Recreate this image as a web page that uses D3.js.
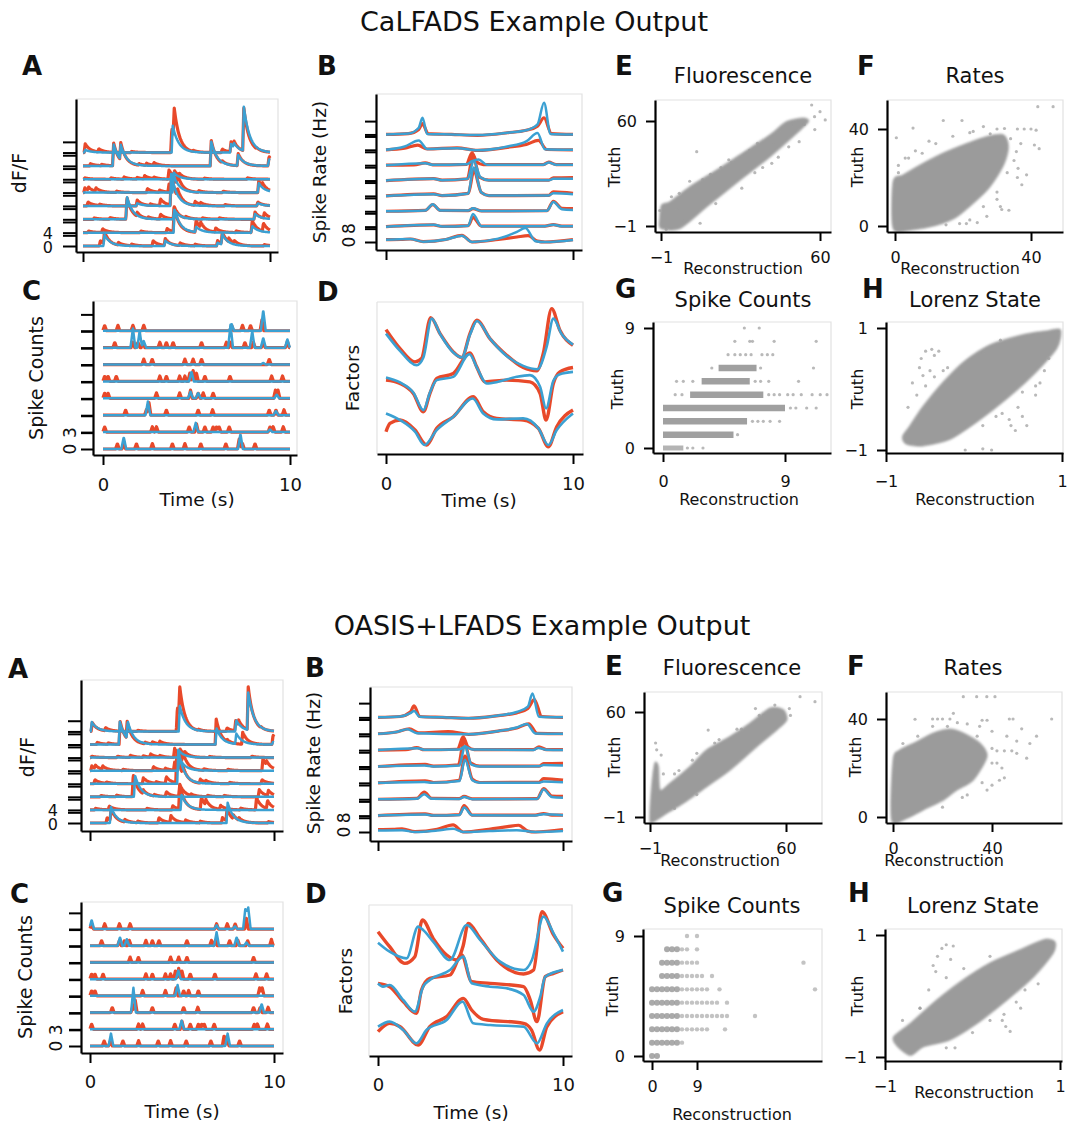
<!DOCTYPE html>
<html><head><meta charset="utf-8">
<script src="https://cdn.jsdelivr.net/npm/d3@7"></script>
<style>
body{margin:0;background:#fff}
svg{display:block}
text{font-family:"DejaVu Sans",sans-serif;fill:#111}
</style>
</head><body><script>
// ---------------- DATA ----------------
const timeTicks = [0, 10];
const traceTickLabels = {ca: ['0', '4'], rate: ['0', '8'], spk: ['0', '3']};

// Calcium (dF/F) traces: events [time s, amplitude]; trace 0 = bottom
const caTruth = [
  [[0.93,2],[1.15,4.5],[1.9,1],[2.6,0.6],[3.75,2],[4.4,2.6],[5.2,1],[6.0,0.6],[7.2,2],[7.45,4.5],[7.8,1.5],[8.1,1],[9.7,0.5]],
  [[0.3,0.6],[1.05,1.4],[3.1,0.6],[4.5,1.5],[4.88,9],[6.05,4.5],[6.3,2],[7.1,1.5],[8.2,0.6],[9.05,4.5],[9.65,3]],
  [[0.6,0.5],[1.45,0.6],[2.35,8.2],[2.9,1.5],[3.5,0.6],[4.15,1.8],[4.88,4.5],[5.5,0.6],[6.4,0.5],[7.3,0.5],[9.2,2.7],[9.7,2]],
  [[0.27,1.5],[0.9,0.5],[2.9,2.2],[3.6,0.6],[4.15,2.5],[4.72,11.5],[5.05,3],[6.0,1.5],[6.3,0.7],[7.6,0.5],[9.35,1.5]],
  [[0.1,1.8],[0.3,1.2],[0.7,1.3],[1.8,0.5],[3.45,1.5],[4.1,0.8],[4.6,3],[4.85,5],[5.05,4],[6.2,0.6],[7.5,0.5],[9.4,4.5],[9.6,1.5]],
  [[0.1,0.5],[1.5,0.5],[2.2,0.8],[2.9,0.6],[3.3,1.2],[3.8,0.6],[4.6,3.4],[4.9,2],[5.15,1],[6.5,0.4],[8.8,0.5]],
  [[0.4,0.8],[1.0,0.5],[1.64,8.5],[2.02,6.5],[3.0,0.6],[3.4,0.8],[3.8,1.0],[6.86,9.5],[7.45,0.8],[8.3,4.5],[9.95,3.5]],
  [[0.12,3.3],[0.85,1.2],[2.6,0.4],[4.75,9],[4.88,11],[5.9,0.4],[7.45,1.3],[7.92,3.8],[8.08,2],[8.6,16],[9.3,0.4]]
];
const caReconCaLFADS = [
  [[1.15,4.2],[4.4,2],[7.2,1.2],[7.45,4]],
  [[4.9,8.5],[6.05,2],[9.05,2.5]],
  [[2.35,8.5],[4.88,3.5],[9.2,2]],
  [[2.9,1],[4.72,12],[9.35,1]],
  [[4.85,6.5],[9.4,3.5]],
  [[4.85,2.5]],
  [[1.64,8],[2.02,5.5],[6.86,9],[8.3,4],[9.95,2.5]],
  [[0.12,1],[4.8,10],[7.92,3.2],[8.08,1.6],[8.6,16.5]]
];
const caReconOASIS = [
  [[1.14,6],[7.48,7.6]],
  [[4.98,5.6]],
  [[2.45,8]],
  [[4.8,12.7]],
  [[4.85,5]],
  [[4.85,2.5]],
  [[1.62,8.5],[2.05,6.5],[6.88,6],[7.95,4],[9.95,1]],
  [[0.1,3.5],[4.88,9.5],[7.95,4.2],[8.6,14]]
];

// Spike rate traces (Hz): knots [time s, rate]
const rateTruth = [
  [[0,1.4],[0.8,1.5],[1.3,1.8],[2.0,0.2],[3.2,1.5],[4.06,4],[4.6,0],[6,1.5],[7.0,3],[7.6,3.8],[8.1,0.5],[8.5,0],[10,1.4]],
  [[0,0],[2.55,1],[3,0.1],[4.4,0.6],[4.65,5.6],[5.1,0.3],[8.5,0.3],[8.95,1.2],[9.4,0.3],[10,0.3]],
  [[0,0],[2.1,0.5],[2.5,4],[2.9,0.5],[4.4,0.4],[4.65,1.6],[5.1,0.2],[8.6,0.3],[8.95,6],[9.4,1.8],[10,1.6]],
  [[0,0],[2.55,1.2],[3,0.2],[4.4,1.5],[4.7,15],[5.1,2],[5.5,0.2],[8.7,0.3],[8.95,2.4],[10,1.5]],
  [[0,0],[2.55,1.2],[3,0.2],[4.35,1],[4.65,15],[5.0,2],[5.5,0.2],[8.7,0.2],[8.95,1.6],[10,1.8]],
  [[0,0],[1.5,0.2],[2.1,1.4],[2.5,0.2],[4.3,0.5],[4.6,7.4],[4.85,2],[5.2,0.3],[8.4,0.3],[8.7,1.8],[9.1,0.3],[10,0.3]],
  [[0,0],[1.0,1],[1.7,2.8],[2.2,0.5],[3.8,1.2],[4.9,-0.3],[6.5,1.5],[7.5,3.2],[8.15,5.6],[8.6,0.2],[10,0]],
  [[0,0],[1.2,0.5],[1.75,3],[1.95,6.5],[2.25,0.5],[3.5,0],[4.9,-0.5],[6.5,1],[7.5,2.5],[8.1,5],[8.45,10],[8.85,0.5],[10,0]]
];
const rateReconCaLFADS = [
  [[0,1.4],[1.3,1.8],[2.0,0.2],[3.2,1.5],[4.06,3.8],[4.6,0],[6,2],[7.0,6],[7.45,8.4],[8.0,0.5],[8.5,0],[10,1.2]],
  [[0,0],[2.55,1.2],[3,0.1],[4.4,0.6],[4.65,7.6],[5.1,0.3],[8.5,0.3],[8.95,1.2],[9.4,0.2],[10,0.2]],
  [[0,0],[2.1,0.5],[2.5,4.2],[2.9,0.5],[4.4,0.4],[4.65,1.8],[5.1,0.2],[8.6,0.3],[8.95,5.6],[9.4,1.2],[10,0.8]],
  [[0,0],[2.55,1],[3,0.2],[4.4,1.5],[4.68,17],[5.1,2],[5.5,0.2],[8.7,0.3],[8.95,1.6],[10,1]],
  [[0,0],[2.55,1],[3,0.2],[4.35,1],[4.7,11.5],[5.05,2],[5.5,0.2],[8.7,0.2],[8.95,1],[10,1]],
  [[0,0],[2.1,1.2],[2.5,0.2],[4.3,0.5],[4.6,2.4],[4.95,3.4],[5.4,0.3],[8.4,0.2],[8.7,1.6],[9.1,0.2],[10,0.2]],
  [[0,0],[1.0,2],[1.75,5.6],[2.2,0.5],[3.8,1],[4.9,-0.3],[6.5,2],[7.5,5],[8.1,10],[8.5,0.3],[10,0]],
  [[0,0],[1.2,0.5],[1.75,4],[1.95,10],[2.2,0.3],[3.5,0],[4.9,-0.4],[6.5,1],[7.5,2.5],[8.1,6],[8.45,19],[8.8,0.3],[10,0]]
];
const rateReconOASIS = [
  [[0,0.8],[1.3,1],[2.0,0],[3.2,0.8],[4.06,1.8],[4.6,0],[6,0.5],[7.5,1],[8.5,0],[10,0.5]],
  [[0,0],[2.55,0.6],[3,0],[4.4,0.3],[4.65,4.5],[5.1,0.2],[8.5,0.1],[8.95,0.8],[10,0.2]],
  [[0,0],[2.1,0.3],[2.5,2.8],[2.9,0.3],[4.4,0.2],[4.65,1.2],[5.1,0],[8.6,0.2],[8.95,5.5],[9.4,1.2],[10,0.8]],
  [[0,0],[2.5,0.5],[3,0],[4.4,1],[4.7,13],[5.1,1.5],[5.5,0],[8.7,0.1],[8.95,0.8],[10,0.4]],
  [[0,0],[2.5,0.5],[3,0],[4.4,0.5],[4.7,11.5],[5.05,1],[5.5,0],[8.7,0.1],[8.95,0.8],[10,0.5]],
  [[0,0],[2.15,1],[2.5,0.2],[4.4,0.3],[4.7,2],[5.1,0.4],[8.4,0.1],[8.65,1.2],[9.1,0.2],[10,0]],
  [[0,0],[1.0,1],[1.6,2.5],[2.1,0.3],[4.9,-0.3],[6.5,1.5],[7.5,3.5],[8.05,5.5],[8.5,0.2],[10,0]],
  [[0,0],[1.2,0.5],[1.75,2.4],[1.95,3.6],[2.25,0.3],[3.5,0],[4.9,-0.5],[6.5,1],[7.5,3],[8.1,6],[8.35,13.4],[8.7,0.3],[10,0]]
];

// Spike count traces: events [time s, count]
const spikeTruth = [
  [[0.77,1],[1.11,1],[1.79,1],[2.64,1],[3.71,1],[4.38,1],[5.23,1],[6.57,1],[7.29,2],[7.46,1],[8.13,1]],
  [[0.09,1],[2.64,1],[2.86,1],[4.61,1],[5.0,1.5],[5.45,1],[5.89,1],[6.07,1],[6.21,1],[6.75,1],[8.93,1],[9.1,1],[9.64,1]],
  [[1.21,1],[2.32,1],[2.46,2.3],[3.39,1],[5.09,1],[5.86,1],[8.89,1],[9.25,1],[9.68,1]],
  [[0.09,1],[0.27,1],[2.86,1],[4.1,1],[4.68,1.5],[5.09,1],[5.36,1],[5.89,1],[9.22,1.5],[9.36,1.5]],
  [[0.09,1],[0.27,1],[0.71,1],[3.04,1],[3.39,1],[4.1,1],[4.38,1],[4.64,1.5],[4.82,2],[5.0,1.5],[5.45,1],[6.79,1],[9.02,1],[9.6,1]],
  [[2.18,1],[2.63,1],[4.38,1],[4.82,1],[5.27,1],[8.89,1]],
  [[0.63,1],[1.6,1],[1.87,1],[2.14,1],[3.04,1],[3.39,1],[3.75,1],[5.27,1],[6.6,1],[6.82,1],[7.59,1],[8.04,1],[8.57,1],[9.86,1.2]],
  [[0.09,1],[0.8,1],[1.6,1],[2.18,1],[6.88,1],[7.46,1],[7.89,1],[8.5,2]]
];
const spikeReconCaLFADS = [
  [[1.11,2.2],[7.35,2.8]],
  [[4.96,1.7],[8.93,0.5]],
  [[2.4,2.5],[9.25,0.8]],
  [[4.68,1.2],[5.09,1],[9.29,0.7]],
  [[4.73,1.8]],
  [[8.57,0.3]],
  [[1.6,3.5],[1.96,3],[2.18,1.2],[6.82,4.2],[7.98,3],[8.57,1.8],[9.86,1.5]],
  [[6.88,1.2],[8.57,3.8]]
];
const spikeReconOASIS = [
  [[1.14,2.3],[7.48,2.3]],
  [[4.98,1.6]],
  [[2.36,4.6],[9.33,1.6]],
  [[4.76,2]],
  [[4.8,1.6]],
  [],
  [[1.63,1.6],[2.0,1.2],[6.88,2.5],[7.97,1.6],[8.5,0.6]],
  [[0.09,1.7],[6.88,0.7],[7.88,0.5],[8.45,4],[8.6,4]]
];

// Latent factors: knots [time s, value]
const factorTruthTop = [
  [[0,37.4],[0.75,31.7],[1.55,27.7],[1.9,28.7],[2.39,41],[2.89,36.2],[3.6,30.7],[4.05,29],[4.49,36.2],[4.85,40.2],[5.56,34.7],[6.45,29.7],[7.34,26],[8.06,25],[8.41,30.2],[8.86,43.7],[9.3,37.2],[10,32.7]],
  [[0,22.2],[0.75,21.2],[1.46,18.2],[2.0,12.7],[2.35,18.2],[2.71,22.7],[3.6,24.2],[4.49,30.4],[4.85,26.2],[5.29,21.7],[6.45,22.2],[7.7,21.7],[8.24,18.2],[8.56,10.2],[8.95,21.2],[9.3,24.7],[10,26]],
  [[0,6.7],[0.21,9.2],[0.75,10.2],[1.55,7.2],[2.17,2.7],[2.71,7.7],[3.6,11.2],[4.67,17.2],[5.2,12.7],[5.92,10.7],[7.34,10.2],[8.15,7.7],[8.68,2.2],[9.13,8.2],[10,13.2]]
];
const factorReconTop = [
  [[0,36.2],[0.75,31],[1.64,26.7],[2.0,29],[2.44,40.7],[2.9,36],[3.6,30.5],[4.05,29],[4.5,36],[4.87,40],[5.56,34.7],[6.45,29.5],[7.34,26.5],[8.1,25.5],[8.59,32.2],[8.95,40.7],[9.4,36],[10,32.9]],
  [[0,23],[0.75,21.5],[1.46,18.5],[2.0,13.2],[2.35,18.5],[2.71,22.2],[3.6,23.2],[4.46,30],[4.9,25.5],[5.38,21.2],[6.0,21.7],[6.99,23.2],[7.7,23.7],[8.24,20.2],[8.56,13.7],[8.95,22],[9.3,24],[10,24.7]],
  [[0,12.2],[0.75,10.2],[1.55,6.7],[2.06,2.7],[2.71,7.2],[3.6,11.2],[4.64,16.7],[5.2,12.2],[5.92,10.4],[7.34,10.7],[8.15,7.7],[8.68,2.7],[9.13,7.2],[10,12.2]]
];
const factorTruthBot = [
  [[0,37.3],[0.63,32.8],[1.45,27.8],[1.99,29.8],[2.4,40.8],[2.98,35.3],[3.71,30.3],[4.25,28.8],[4.6,33],[4.88,39.8],[5.52,35.3],[6.42,28.8],[7.87,24.6],[8.41,25.8],[8.86,43.3],[9.49,36.3],[10,32.3]],
  [[0,21.8],[0.63,20.8],[1.36,16.3],[2.08,12.8],[2.35,19.8],[2.8,23.3],[3.89,24.3],[4.52,30.3],[5.06,22.3],[6.06,21.8],[7.87,20.8],[8.23,16.8],[8.59,10.3],[9.04,23.8],[9.49,24.8],[10,25.8]],
  [[0,7.3],[0.63,9.8],[1.2,8.8],[2.17,3.3],[2.8,8.8],[3.71,11.8],[4.61,17.3],[5.06,13.8],[5.7,11],[7.87,9.8],[8.3,7.8],[8.73,1.8],[9.13,8.8],[10,13.3]]
];
const factorReconBot = [
  [[0,34],[0.63,31.3],[1.54,29.3],[2.17,38.8],[2.44,37.8],[2.98,34.3],[3.89,28.8],[4.79,39.3],[5.52,34.8],[6.6,28.3],[7.87,25.8],[8.32,28.8],[8.95,41.8],[9.49,36.8],[10,31.3]],
  [[0,21.8],[0.27,20.8],[0.63,21.3],[1.36,16.8],[1.99,13.3],[2.44,20.8],[2.8,22.8],[3.89,25.8],[4.61,29.8],[5.06,21.8],[6.06,20.8],[6.96,20.3],[7.87,18.3],[8.41,13.3],[8.77,17.8],[9.04,23.8],[10,25.8]],
  [[0,8.8],[0.63,10.3],[1.36,7.8],[2.08,3.8],[2.62,7.8],[3.71,10.8],[4.57,16.3],[5.15,9.8],[6.06,9.3],[7.87,8.8],[8.59,3.8],[9.13,9.8],[10,13.8]]
];

// Scatter panels: dense-cloud outlines [reconstruction, truth] and sparse points
const fluorTicks = [-1, 60], rateTicks = [0, 40], countTicks = [0, 9], lorenzTicks = [-1, 1];

const fluorCloudTop = [[-1.1,-2.3],[6.3,-2.3],[16.5,10.2],[29.3,25.7],[40.8,39.3],[51,52.9],[55.5,59.6],[53.6,61.6],[47.2,59.6],[40.8,51.9],[29.3,40.3],[20.4,31.5],[10.1,21.8],[2.5,13.1],[-0.7,11.2],[-1.4,4]];
const fluorPtsTop = [[12.7,42.2],[56.8,69.3],[60,65.4],[62,60.6],[57.9,62.5],[14,0.6],[41.5,35.4],[5,8.3],[22,33],[25,37.5],[33,43],[36,47],[45,53],[50,57],[8,2],[20,12],[35,30],[48,45],[15,26],[18,29],
  [3,16],[6,18],[10,25],[30,21],[38,33],[44,39],[52,48],[58,55],[1,-3],[-1.5,8],[26,36],[42,48],[54,58]];
const rateCloudTop = [[-0.5,-0.9],[-0.5,18.3],[2.4,21],[8.3,25.8],[14.2,30],[20.1,33.4],[27,36.8],[31.9,37.5],[33.3,32.7],[31.9,25.2],[27.9,16.2],[24,10.7],[18.1,3.8],[12.3,0.4],[4.4,-1.6]];
const ratePtsTop = [[42,49.2],[46.5,49.2],[32.2,40.2],[30,40],[36,40],[38,40],[40,40],[41.5,39.5],[14.2,43.5],[19.7,43.5],[5.3,40.4],[0.4,36.4],[35.7,30.7],[41,33.4],[36.2,23.8],[38.7,21.1],[37.3,17],[31.4,6.8],[33.5,6.5],[24.2,1.4],[19,1],[21,1],[35,27],[42.4,31.9],[30,11],[28,38],[22,38.5],[10,35],[26,41],[34,36],[37,34],[31,8],[27,4],[3,28],[6,31],[1,25],
  [1,22],[4,28],[8,30],[12,34],[17,37],[23,39],[29,36],[33,22],[36,20],[30,14],[26,8],[22,2.5],[15,0.5]];
const countBandsTop = [[0,0,1.5],[1,0,5.2],[2,0,6.2],[3,0,9.0],[4,2.0,7.4],[5,2.85,6.4],[6,4.1,6.9]];
const countPtsTop = [[1.8,0],[2.2,0],[2.95,0],[5.5,1],[6.6,2],[7.0,2],[7.4,2],[7.9,2],[8.6,2],[9.4,3],[9.8,3],[10.6,3],[11.3,3],[0.9,4],[1.4,4],[7.8,4],[8.2,4],[8.6,4],[9.2,4],[9.6,4],[10.2,4],[11.0,4],[11.6,4],[12.1,4],[1.0,5],[1.5,5],[2.2,5],[6.8,5],[7.2,5],[7.8,5],[10.0,5],[3.6,6],[7.2,6],[11.1,6],[4.8,7],[5.3,7],[5.7,7],[6.1,7],[6.5,7],[7.3,7],[7.7,7],[8.1,7],[5.3,8],[6.4,8],[6.6,8],[8.2,8],[11.3,8],[6.0,9],[7.1,9]];
const lorenzCloudTop = [[-0.81,-0.78],[-0.73,-0.61],[-0.58,-0.29],[-0.35,0.11],[-0.12,0.44],[0.18,0.72],[0.56,0.89],[0.83,0.95],[0.98,0.97],[0.94,0.67],[0.67,0.23],[0.37,-0.16],[0.03,-0.54],[-0.27,-0.82],[-0.58,-0.93],[-0.77,-0.9]];
const lorenzPtsTop = [[-0.6,0.5],[-0.55,0.62],[-0.48,0.65],[-0.4,0.62],[-0.62,0.35],[-0.58,0.22],[-0.5,0.3],[-0.45,0.55],[0.32,-0.4],[0.4,-0.5],[0.47,-0.68],[0.42,-0.6],[0.55,-0.45],[0.6,-0.6],[-0.1,-1.0],[0.1,-0.98],[0.2,-1.0],[0.7,-0.1],[0.75,0.1],[-0.7,0.1],[-0.35,0.3],[0.5,-0.3],
  [-0.75,-0.3],[-0.65,-0.1],[-0.55,0.05],[-0.45,0.2],[-0.3,0.35],[0.1,0.6],[0.3,0.8],[0.55,-0.05],[0.7,0.05],[0.8,0.3],[0.85,0.5],[-0.2,-0.7],[0.1,-0.6],[0.25,-0.45]];

const fluorCloudBot = [[-1,-2.7],[-0.2,16.6],[1.2,30.2],[2.7,28.2],[3.5,14.7],[8,18.6],[16.9,28.2],[24.4,37.9],[34.9,45.7],[43.8,53.4],[52.8,62.2],[58.8,61.2],[60.3,55.4],[55.8,49.6],[46.8,39.8],[34.9,26.3],[24.4,16.6],[13.9,7],[6.5,1.2],[0.5,-3.7]];
const fluorPtsBot = [[66.3,68.9],[73,66],[61.5,62],[1.5,42],[25.1,49.5],[46.3,62],[48,58],[55,64],[40,50],[30,44],[20,36],[12,26],[62,58],[4,35],[2,38],
  [5,24],[10,24],[18,32],[28,42],[38,50],[50,58],[40,36],[30,24],[20,12],[10,4]];
const rateCloudBot = [[-0.5,-1.2],[0.1,23.3],[2.8,27.3],[9.6,30.7],[16.3,34.2],[23,35.8],[28.4,34.2],[35.2,30],[37.9,24.6],[32.4,15.1],[25.7,11],[20.3,6.9],[12.2,2.9],[5.5,-0.5]];
const ratePtsBot = [[28.4,49.1],[33.8,49.1],[37.9,49.1],[41.2,49.1],[8.9,39.9],[16,40],[18,40],[20,40],[23,40],[24.4,42.3],[36,39.5],[38,39.5],[47,40],[48.5,40],[64.1,40],[58,33],[55.3,30],[54,24],[43,15],[45,16],[38,11],[40,13],[30,9],[42,27],[45,27],[48,27],[50,26],[44,20],[40,22],[46,33],[52,36],[35,37],[40,35],[50,31],[30,38],[26,38.5],
  [4,30],[10,33],[16,37],[22,37],[34,33],[40,28],[42,22],[36,14],[28,8],[20,4]];
const countRowsBot = [
  [0,[0,1]],
  [1,[0,1,2,3,4,5,6]],
  [2,[0,1,2,3,4,5,6,7,8,9,10,11,14.6]],
  [3,[0,1,2,3,4,5,6,7,8,9,10,11,12,13,14,15,20.6]],
  [4,[0,1,2,3,4,5,6,7,8,9,10,11,12,13,15]],
  [5,[0,1,2,3,4,5,6,7,8,9,10,11,13.5,32.6]],
  [6,[2,3,4,5,6,7,8,9,10,12]],
  [7,[2,3,4,5,6,7,8,9,30.3]],
  [8,[3,4,5,6,7,9]],
  [9,[7,9]]
];
const lorenzCloudBot = [[-0.9,-0.67],[-0.71,-0.45],[-0.41,-0.07],[-0.11,0.26],[0.2,0.54],[0.5,0.73],[0.81,0.92],[0.94,0.89],[0.92,0.7],[0.7,0.32],[0.39,-0.07],[0.05,-0.45],[-0.26,-0.72],[-0.56,-0.83],[-0.71,-0.97],[-0.86,-0.82]];
const lorenzPtsBot = [[-0.45,0.5],[-0.4,0.65],[-0.35,0.78],[-0.3,0.84],[-0.22,0.82],[-0.25,0.6],[-0.42,0.4],[0.34,-0.4],[0.38,-0.5],[0.43,-0.58],[0.36,-0.3],[0.55,-0.2],[-0.2,-0.85],[0.75,0.2],[-0.6,-0.2],
  [-0.8,-0.4],[-0.6,-0.2],[-0.5,0.1],[-0.3,0.3],[-0.1,0.45],[0.2,0.65],[0.6,0.1],[0.5,-0.1],[0.2,-0.4],[0,-0.6],[-0.3,-0.85]];

// ---------------- DRAWING ----------------
const RED = '#e8492a', BLUE = '#3ba0d2', GRAY = '#9b9b9b', FRAMEC = '#e2e2e2';
const svg = d3.select('body').append('svg').attr('width', 1068).attr('height', 1124);
const defs = svg.append('defs');
defs.append('filter').attr('id', 'fuzz').attr('x', '-10%').attr('y', '-10%').attr('width', '120%').attr('height', '120%')
  .append('feGaussianBlur').attr('stdDeviation', 1.1);
defs.append('filter').attr('id', 'soft').append('feGaussianBlur').attr('stdDeviation', 0.45);

function anchorScale(v0, p0, v1, p1, pa, pb) {
  const s = d3.scaleLinear().domain([v0, v1]).range([p0, p1]);
  return d3.scaleLinear().domain([s.invert(pa), s.invert(pb)]).range([pa, pb]);
}
function styleAxis(g, fs) {
  g.selectAll('.domain').attr('stroke', '#000').attr('stroke-width', 2.2);
  g.selectAll('.tick line').attr('stroke', '#000').attr('stroke-width', 2);
  g.selectAll('.tick text').attr('fill', '#111').style('font-size', fs + 'px').style('font-family', 'DejaVu Sans');
}
function lightFrame(f, left) {
  const [L, R, T, B] = f;
  svg.append('path').attr('d', `M${L},${T}H${R}V${B}`).attr('fill', 'none').attr('stroke', FRAMEC).attr('stroke-width', 1.2);
  if (left) svg.append('path').attr('d', `M${L},${T}V${B}`).attr('fill', 'none').attr('stroke', FRAMEC).attr('stroke-width', 1.2);
}
function txt(x, y, s, o = {}) {
  const t = svg.append('text').text(s).style('font-size', (o.fs || 16) + 'px');
  if (o.rot) {
    t.attr('transform', `translate(${x},${y}) rotate(-90)`).attr('text-anchor', 'middle').attr('dy', '0.35em');
  } else {
    t.attr('x', x).attr('y', y).attr('text-anchor', o.anchor || 'middle');
    if (o.dy) t.attr('dy', o.dy);
  }
  if (o.bold) t.style('font-weight', 'bold');
  return t;
}
const fmtTick = d => d < 0 ? '\u2212' + Math.abs(d) : String(d);

const tGrid = d3.range(0, 10.001, 0.02);
function kern(kind, dt, isRed) {
  if (kind === 'ca') {
    if (dt < -0.06) return 0;
    if (dt < 0) return (dt + 0.06) / 0.06;
    return Math.exp(-dt / (isRed ? 0.28 : 0.32));
  }
  const hw = isRed ? 0.1 : 0.13, a = Math.abs(dt);
  return a < hw ? 1 - a / hw : 0;
}
function traceSeries(ev, kind, isRed) {
  if (kind === 'rate') return ev;
  return tGrid.map(t => {
    let v = 0;
    for (const [te, h] of ev) v += h * kern(kind, t - te, isRed);
    return [t, v];
  });
}

function tracePanel(c) {
  const [L, R, T, B] = c.frame;
  const x = anchorScale(0, c.x0, 10, c.x10, L, R);
  const y = anchorScale(0, c.base, 1, c.base - c.unitPx, B, T);
  lightFrame(c.frame, false);
  const line = d3.line().x(d => x(d[0])).y(d => y(d[1]))
    .curve(c.kind === 'rate' ? d3.curveMonotoneX : d3.curveLinear);
  [[c.red, RED, true, 3.2], [c.blue, BLUE, false, 2.5]].forEach(([arr, col, isRed, w]) => {
    const g = svg.append('g').attr('filter', 'url(#soft)');
    arr.forEach((ev, k) => {
      const pts = traceSeries(ev, c.kind, isRed).map(([t, v]) => [t, v + k * c.off]);
      g.append('path').attr('d', line(pts)).attr('fill', 'none').attr('stroke', col)
        .attr('stroke-width', w).attr('stroke-linejoin', 'round');
    });
  });
  const yt = [];
  for (let k = 0; k < c.red.length; k++) { yt.push(k * c.off, k * c.off + c.step); }
  const gy = svg.append('g').attr('transform', `translate(${L},0)`)
    .call(d3.axisLeft(y).tickValues(yt).tickFormat('').tickSize(c.tickLen).tickSizeOuter(0));
  styleAxis(gy, 17);
  const gx = svg.append('g').attr('transform', `translate(0,${B})`)
    .call(d3.axisBottom(x).tickValues(timeTicks).tickFormat(c.xlab ? d3.format('d') : '').tickSize(10).tickSizeOuter(0).tickPadding(c.xpad || 14));
  styleAxis(gx, 18);
  const labs = traceTickLabels[c.kind];
  [[0, labs[0], 1.5], [c.step, labs[1], -2.5]].forEach(([v, s, nudge]) => {
    if (c.rotLab) txt(c.labX, y(v), s, {fs: 17, rot: true});
    else txt(c.labX, y(v) + nudge, s, {fs: 16, anchor: 'end', dy: '0.36em'});
  });
}

function factorPanel(c) {
  const [L, R, T, B] = c.frame;
  const x = anchorScale(0, c.x0, 10, c.x10, L, R);
  const y = d3.scaleLinear().domain(c.ydom).range([B, T]);
  lightFrame(c.frame, true);
  const line = d3.line().x(d => x(d[0])).y(d => y(d[1])).curve(d3.curveMonotoneX);
  [[c.red, RED, 3.4], [c.blue, BLUE, 2.6]].forEach(([arr, col, w]) => {
    const g = svg.append('g').attr('filter', 'url(#soft)');
    arr.forEach(kn => {
      g.append('path').attr('d', line(kn)).attr('fill', 'none').attr('stroke', col).attr('stroke-width', w);
    });
  });
  const gx = svg.append('g').attr('transform', `translate(0,${B})`)
    .call(d3.axisBottom(x).tickValues(timeTicks).tickFormat(d3.format('d')).tickSize(10).tickSizeOuter(0).tickPadding(c.xpad || 14));
  styleAxis(gx, 18);
}

function scatterPanel(c) {
  const [L, R, T, B] = c.frame;
  const x = anchorScale(c.xt[0], c.xa[0], c.xt[1], c.xa[1], L, R);
  const y = anchorScale(c.yt[0], c.ya[0], c.yt[1], c.ya[1], B, T);
  lightFrame(c.frame, false);
  const g = svg.append('g');
  if (c.cloud) {
    g.append('path').datum(c.cloud)
      .attr('d', d3.line().x(d => x(d[0])).y(d => y(d[1])).curve(d3.curveCardinalClosed.tension(0.2)))
      .attr('fill', GRAY).attr('stroke', GRAY).attr('stroke-width', 2).attr('stroke-opacity', 0.6)
      .attr('filter', 'url(#fuzz)');
  }
  if (c.bands) {
    const gb = g.append('g').attr('filter', 'url(#soft)');
    c.bands.forEach(([yy, a, b]) => {
      gb.append('line').attr('x1', x(a)).attr('x2', x(b)).attr('y1', y(yy)).attr('y2', y(yy))
        .attr('stroke', GRAY).attr('stroke-width', yy === 0 ? 5 : 6.5).attr('stroke-opacity', yy === 0 ? 0.75 : 0.95);
    });
  }
  if (c.rows) {
    const gr = g.append('g').attr('filter', 'url(#soft)');
    c.rows.forEach(([yy, xs]) => xs.forEach(xx => {
      gr.append('circle').attr('cx', x(xx)).attr('cy', y(yy)).attr('r', xx <= 5 ? 3 : 2.2)
        .attr('fill', GRAY).attr('fill-opacity', xx <= 5 ? 0.85 : 0.6);
    }));
  }
  const gp = g.append('g').attr('filter', 'url(#soft)');
  (c.pts || []).forEach(p => {
    gp.append('circle').attr('cx', x(p[0])).attr('cy', y(p[1])).attr('r', 1.6).attr('fill', GRAY).attr('fill-opacity', 0.7);
  });
  const gy = svg.append('g').attr('transform', `translate(${L},0)`)
    .call(d3.axisLeft(y).tickValues(c.yt).tickFormat(fmtTick).tickSize(9).tickSizeOuter(0).tickPadding(9));
  styleAxis(gy, 16);
  const gx = svg.append('g').attr('transform', `translate(0,${B})`)
    .call(d3.axisBottom(x).tickValues(c.xt).tickFormat(fmtTick).tickSize(9).tickSizeOuter(0).tickPadding(c.xpad || 11));
  styleAxis(gx, 16);
  txt(c.title[1], c.title[2], c.title[0], {fs: 21});
  txt(c.truth[0], c.truth[1], 'Truth', {fs: 16, rot: true});
  txt(c.recon[0], c.recon[1], 'Reconstruction', {fs: 16});
}

// ---------- Top figure: CaLFADS ----------
txt(534, 31, 'CaLFADS Example Output', {fs: 27});
tracePanel({frame: [76, 278, 99, 252], x0: 83, x10: 270, base: 246, unitPx: 2.67, off: 5, step: 4, kind: 'ca',
  red: caTruth, blue: caReconCaLFADS, tickLen: 13, labX: 53, rotLab: false});
tracePanel({frame: [376, 582, 94, 250], x0: 386, x10: 573, base: 242, unitPx: 1.67, off: 9.2, step: 8, kind: 'rate',
  red: rateTruth, blue: rateReconCaLFADS, tickLen: 11, labX: 349, rotLab: true});
tracePanel({frame: [93, 297, 301, 455], x0: 103, x10: 290, base: 449, unitPx: 5.45, off: 3.1, step: 3, kind: 'spk',
  red: spikeTruth, blue: spikeReconCaLFADS, tickLen: 12, labX: 70, rotLab: true, xlab: true, xpad: 13});
factorPanel({frame: [377, 583, 302, 454], x0: 386, x10: 573, ydom: [0, 45.7], red: factorTruthTop, blue: factorReconTop, xpad: 13});
txt(19, 173, 'dF/F', {fs: 19, rot: true});
txt(320, 172, 'Spike Rate (Hz)', {fs: 18.5, rot: true});
txt(36, 378, 'Spike Counts', {fs: 19, rot: true});
txt(353, 378, 'Factors', {fs: 18.5, rot: true});
txt(197, 506, 'Time (s)', {fs: 18.5});
txt(479, 507, 'Time (s)', {fs: 18.5});

scatterPanel({frame: [655, 831, 100, 232], xt: fluorTicks, xa: [661, 820], yt: fluorTicks, ya: [226, 121],
  cloud: fluorCloudTop, pts: fluorPtsTop, title: ['Fluorescence', 743, 83], truth: [614, 167], recon: [743, 274]});
scatterPanel({frame: [887, 1063, 100, 232], xt: rateTicks, xa: [895, 1031], yt: rateTicks, ya: [226, 129],
  cloud: rateCloudTop, pts: ratePtsTop, title: ['Rates', 975, 83], truth: [857, 167], recon: [960, 274]});
scatterPanel({frame: [653, 831, 322, 453], xt: countTicks, xa: [663, 785], yt: countTicks, ya: [448, 328],
  bands: countBandsTop, pts: countPtsTop, title: ['Spike Counts', 743, 307], truth: [617, 389], recon: [739, 505], xpad: 14});
scatterPanel({frame: [886, 1063, 322, 453], xt: lorenzTicks, xa: [886, 1062], yt: lorenzTicks, ya: [450, 328],
  cloud: lorenzCloudTop, pts: lorenzPtsTop, title: ['Lorenz State', 975, 307], truth: [857, 389], recon: [975, 505], xpad: 14});

[['A', 22, 75], ['B', 317, 75], ['C', 22, 300], ['D', 317, 301], ['E', 615, 75], ['F', 857, 75], ['G', 615, 298], ['H', 862, 298]]
  .forEach(([s, x, y]) => txt(x, y, s, {fs: 26, bold: true, anchor: 'start'}));

// ---------- Bottom figure: OASIS+LFADS ----------
txt(542, 635, 'OASIS+LFADS Example Output', {fs: 27});
tracePanel({frame: [81, 283, 680, 831], x0: 90, x10: 274, base: 823, unitPx: 2.67, off: 4.9, step: 4, kind: 'ca',
  red: caTruth, blue: caReconOASIS, tickLen: 13, labX: 58, rotLab: false});
tracePanel({frame: [370, 572, 687, 841], x0: 378, x10: 563, base: 832, unitPx: 1.78, off: 9.2, step: 8, kind: 'rate',
  red: rateTruth, blue: rateReconOASIS, tickLen: 11, labX: 344, rotLab: true});
tracePanel({frame: [81, 283, 902, 1053], x0: 90, x10: 274, base: 1046, unitPx: 5.39, off: 3.1, step: 3, kind: 'spk',
  red: spikeTruth, blue: spikeReconOASIS, tickLen: 12, labX: 56, rotLab: true, xlab: true, xpad: 12});
factorPanel({frame: [369, 572, 905, 1056], x0: 378, x10: 563, ydom: [0, 45.3], red: factorTruthBot, blue: factorReconBot, xpad: 12});
txt(27, 757, 'dF/F', {fs: 19, rot: true});
txt(314, 763, 'Spike Rate (Hz)', {fs: 18.5, rot: true});
txt(25, 977, 'Spike Counts', {fs: 19, rot: true});
txt(346, 981, 'Factors', {fs: 18.5, rot: true});
txt(182, 1118, 'Time (s)', {fs: 18.5});
txt(471, 1119, 'Time (s)', {fs: 18.5});

scatterPanel({frame: [644, 822, 692, 823], xt: fluorTicks, xa: [650, 786], yt: fluorTicks, ya: [817, 712],
  cloud: fluorCloudBot, pts: fluorPtsBot, title: ['Fluorescence', 732, 675], truth: [614, 757], recon: [720, 866]});
scatterPanel({frame: [886, 1062, 692, 823], xt: rateTicks, xa: [893, 992], yt: rateTicks, ya: [817, 719],
  cloud: rateCloudBot, pts: ratePtsBot, title: ['Rates', 973, 675], truth: [855, 757], recon: [944, 866]});
scatterPanel({frame: [643, 822, 929, 1061], xt: countTicks, xa: [652, 697], yt: countTicks, ya: [1056, 936],
  rows: countRowsBot, title: ['Spike Counts', 732, 913], truth: [612, 996], recon: [732, 1120]});
scatterPanel({frame: [885, 1062, 929, 1061], xt: lorenzTicks, xa: [885, 1060], yt: lorenzTicks, ya: [1057, 935],
  cloud: lorenzCloudBot, pts: lorenzPtsBot, title: ['Lorenz State', 973, 913], truth: [857, 996], recon: [974, 1098]});

[['A', 8, 678], ['B', 305, 677], ['C', 10, 903], ['D', 305, 903], ['E', 605, 675], ['F', 847, 675], ['G', 602, 902], ['H', 848, 902]]
  .forEach(([s, x, y]) => txt(x, y, s, {fs: 26, bold: true, anchor: 'start'}));
</script></body></html>
